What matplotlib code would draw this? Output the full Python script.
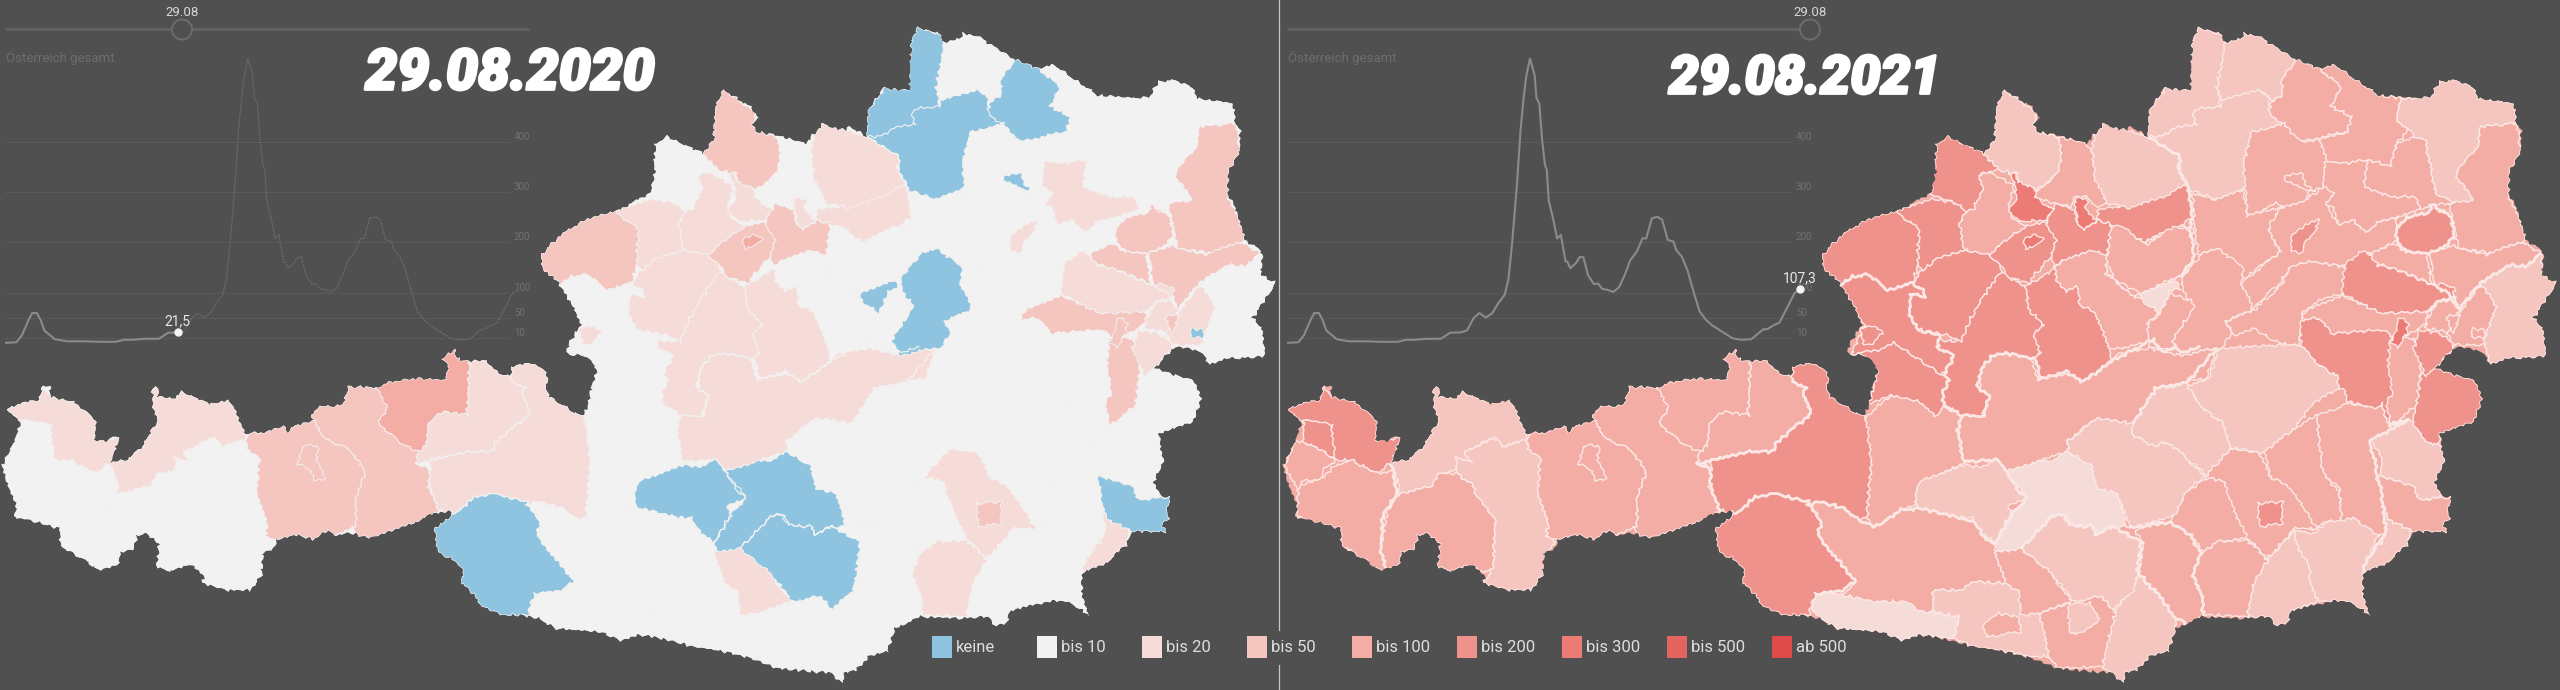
import matplotlib
matplotlib.use("Agg")
import matplotlib.pyplot as plt
import matplotlib.patheffects as pe
from matplotlib import font_manager
from matplotlib.collections import LineCollection, PolyCollection
from matplotlib.patches import Circle, Polygon, Rectangle
import numpy as np

W, H = 2560, 690
BG = "#505050"

def A(*p):
    return [(x / 2.45, 345 + y / 3) for x, y in p]
def B(*p):
    return [(640 + x / 2.45, y / 3) for x, y in p]
def C(*p):
    return [(640 + x / 2.45, 345 + y / 3) for x, y in p]
def E(*p):
    return [(520 + x / 3, 170 + y / 3) for x, y in p]

# 7 day incidence, Austria
days = [0, 11, 17, 24, 28, 33, 37, 41, 47, 52, 65, 83, 100, 117, 126, 135, 148, 163, 173, 183, 187, 191, 198, 204,
        211, 218, 224, 231, 235, 239, 244, 248, 251, 254, 258, 260, 263, 265, 268, 271, 274, 276, 278, 283, 287,
        291, 296, 298, 301, 307, 311, 315, 320, 326, 331, 335, 341, 347, 353, 359, 365, 372, 378, 382, 388, 394,
        399, 405, 411, 414, 420, 426, 433, 439, 446, 452, 463, 474, 483, 494, 507, 511, 518, 524, 533, 540, 546]
incidence = [1, 2, 16, 46, 60, 60, 46, 25, 16, 8, 4, 4, 3, 3, 7, 7, 9, 9, 21, 21.5, 23, 26, 50, 60,
             51, 60, 79, 96, 126, 198, 311, 423, 482, 529, 565, 552, 532, 486, 476, 403, 354, 344, 284, 245, 208,
             215, 162, 162, 149, 159, 171, 171, 135, 118, 118, 108, 106, 102, 111, 135, 165, 182, 208, 208, 248, 251,
             245, 205, 202, 185, 172, 145, 99, 63, 46, 36, 23, 10, 7, 8, 28, 28, 36, 41, 73, 99, 107.3]
y_ticks = [10, 50, 100, 200, 300, 400]

class_labels = ["keine", "bis 10", "bis 20", "bis 50", "bis 100", "bis 200", "bis 300", "bis 500", "ab 500"]
class_colors = ["#8fc4e0", "#f2f2f2", "#f6dcd9", "#f5c5c0", "#f3ada5", "#ef928b", "#ec7a75", "#e66460", "#de4a4a"]

austria = (
    A((15, 187), (95, 165), (105, 122), (122, 125), (125, 155), (180, 170), (215, 205), (235, 225), (232, 285),
      (265, 290), (275, 272), (292, 280), (280, 320), (270, 355), (310, 345), (345, 310), (385, 230), (375, 175),
      (372, 130), (390, 128), (385, 155), (430, 160), (445, 140), (500, 170), (520, 178), (560, 165), (570, 185),
      (580, 205), (600, 265), (655, 262), (700, 242), (705, 262), (725, 240), (770, 228), (762, 210), (785, 185),
      (840, 180), (855, 125), (920, 128), (950, 112), (1020, 100), (1090, 105), (1100, 60), (1080, 42), (1115, 12),
      (1118, 40), (1150, 50), (1190, 45), (1225, 90), (1250, 90), (1255, 65), (1300, 55), (1330, 70), (1345, 105),
      (1335, 125), (1345, 155), (1410, 205), (1430, 210))
    + E((205, 700), (215, 650), (230, 610), (215, 575), (190, 555), (150, 555), (140, 545), (150, 515), (185, 460),
        (150, 390), (120, 345), (70, 295), (62, 255), (120, 195), (200, 150), (285, 125), (390, 70), (405, 10))
    + B((35, 490), (38, 435), (65, 408), (100, 430), (155, 460), (180, 420), (185, 320), (205, 270), (230, 290),
        (270, 320), (290, 350), (275, 375), (285, 395), (330, 405), (405, 430), (425, 405), (450, 368), (470, 385),
        (505, 390), (515, 380), (555, 410), (560, 330), (595, 265), (640, 270), (660, 270), (665, 125), (680, 83),
        (735, 100), (745, 130), (785, 115), (790, 100), (830, 110), (880, 150), (920, 180), (975, 205), (1015, 195),
        (1060, 235), (1120, 285), (1225, 295), (1250, 290), (1270, 245), (1305, 240), (1355, 262), (1365, 295),
        (1450, 310), (1460, 370), (1470, 390), (1470, 450), (1440, 520), (1440, 590), (1455, 610), (1475, 680),
        (1480, 720), (1515, 745), (1525, 775), (1520, 825), (1558, 850), (1530, 900), (1500, 955), (1520, 980),
        (1530, 1035))
    + C((1530, 35), (1440, 40), (1395, 58), (1380, 25), (1345, 10), (1310, 5), (1260, 70), (1320, 95), (1355, 105),
        (1375, 160), (1355, 230), (1270, 265), (1282, 350), (1258, 410), (1275, 455), (1300, 455), (1290, 495),
        (1297, 520), (1280, 540), (1290, 560), (1205, 560), (1190, 600), (1145, 650), (1082, 685), (1082, 750),
        (1100, 810), (1050, 770), (1015, 767), (960, 780), (905, 800), (900, 830), (870, 840), (855, 815), (780, 820),
        (690, 815), (625, 850), (605, 920), (560, 935), (530, 975), (500, 985), (497, 1015), (470, 985), (335, 970),
        (270, 940), (190, 915), (130, 905), (70, 885), (0, 870))
    + A((1520, 885), (1470, 860), (1360, 850), (1320, 820), (1270, 810), (1230, 810), (1180, 785), (1165, 750),
        (1130, 715), (1135, 680), (1120, 650), (1075, 625), (1063, 550), (1105, 515), (1105, 495), (1050, 510),
        (1000, 540), (920, 575), (905, 580), (870, 565), (820, 570), (800, 555), (770, 585), (730, 570), (680, 585),
        (670, 610), (645, 620), (640, 690), (615, 735), (555, 735), (495, 715), (500, 690), (465, 658), (420, 680),
        (385, 665), (390, 600), (360, 565), (335, 575), (325, 615), (295, 620), (290, 655), (240, 675), (215, 650),
        (150, 605), (145, 550), (60, 520), (35, 520), (40, 480), (15, 400), (5, 360), (35, 290), (50, 235))
)

districts = [
    A((15, 187), (95, 165), (105, 122), (125, 155), (180, 170), (235, 225), (232, 285), (292, 280), (270, 355),
      (235, 385), (170, 345), (135, 345), (120, 300), (125, 240), (60, 225), (50, 235)),
    A((55, 225), (120, 235), (130, 300), (130, 340), (90, 310), (55, 290)),
    A((50, 290), (90, 310), (135, 345), (105, 370), (100, 400), (50, 410), (45, 445), (10, 360), (35, 290)),
    A((45, 420), (95, 405), (130, 365), (170, 345), (235, 385), (280, 375), (285, 445), (250, 510), (245, 610),
      (255, 670), (240, 675), (150, 600), (145, 550), (40, 515), (40, 480)),
    A((270, 355), (310, 345), (345, 310), (385, 230), (375, 175), (372, 130), (390, 128), (385, 155), (430, 160),
      (445, 140), (500, 170), (560, 165), (580, 205), (600, 265), (605, 290), (575, 290), (545, 305), (520, 275),
      (490, 295), (450, 320), (465, 350), (430, 340), (430, 375), (385, 385), (370, 425), (290, 445), (280, 375)),
    A((290, 445), (370, 425), (385, 385), (430, 385), (470, 420), (480, 455), (525, 520), (520, 670), (495, 680),
      (465, 660), (420, 680), (385, 665), (390, 600), (360, 565), (335, 575), (325, 615), (295, 620), (290, 655),
      (255, 670), (245, 610), (260, 500)),
    A((450, 320), (520, 280), (550, 305), (600, 285), (605, 310), (635, 340), (635, 400), (630, 440), (655, 530),
      (650, 575), (675, 590), (650, 620), (640, 690), (615, 735), (555, 735), (495, 715), (520, 670), (525, 520),
      (480, 455), (470, 420), (430, 385), (430, 340), (465, 350)),
    A((605, 265), (655, 262), (700, 242), (705, 262), (725, 240), (770, 228), (785, 265), (815, 295), (850, 305),
      (895, 380), (880, 430), (870, 470), (875, 525), (865, 550), (820, 570), (800, 555), (770, 585), (730, 570),
      (680, 585), (650, 575), (655, 530), (630, 440), (635, 340), (605, 310)),
    A((750, 300), (780, 305), (775, 345), (795, 400), (770, 405), (760, 375), (730, 355), (740, 310)),
    A((770, 228), (762, 210), (785, 185), (840, 180), (855, 125), (920, 128), (950, 170), (950, 190), (925, 235),
      (990, 300), (1025, 320), (1020, 360), (1050, 365), (1055, 440), (1075, 500), (1000, 540), (920, 575), (905, 580),
      (870, 565), (865, 550), (875, 525), (870, 470), (880, 430), (895, 380), (850, 305), (815, 295), (785, 265)),
    A((920, 128), (950, 112), (1020, 100), (1090, 105), (1100, 60), (1080, 42), (1115, 12), (1118, 40), (1150, 50),
      (1145, 210), (1085, 200), (1050, 235), (1045, 300), (1025, 320), (990, 300), (925, 235), (950, 190)),
    A((1150, 50), (1190, 45), (1225, 90), (1250, 90), (1285, 130), (1280, 150), (1300, 205), (1275, 230), (1215, 290),
      (1205, 320), (1140, 320), (1060, 345), (1020, 360), (1025, 320), (1045, 300), (1050, 235), (1085, 200), (1145, 210)),
    A((1055, 345), (1140, 320), (1205, 320), (1215, 290), (1275, 230), (1300, 205), (1280, 150), (1285, 130), (1250, 105),
      (1255, 65), (1300, 55), (1330, 70), (1345, 105), (1335, 125), (1345, 155), (1410, 205), (1430, 210), (1445, 260),
      (1447, 350), (1435, 520), (1415, 525), (1380, 490), (1320, 470), (1290, 480), (1210, 445), (1165, 455), (1115, 505),
      (1075, 495), (1050, 430), (1055, 365)),
    A((1115, 505), (1165, 455), (1210, 445), (1290, 470), (1325, 530), (1315, 570), (1360, 640), (1410, 710), (1375, 735),
      (1310, 750), (1295, 790), (1295, 810), (1230, 810), (1180, 785), (1165, 750), (1130, 715), (1135, 680), (1120, 650),
      (1075, 625), (1063, 550), (1105, 515)),
    A((1325, 530), (1290, 480), (1320, 470), (1380, 490), (1415, 525), (1455, 545), (1520, 495), (1568, 490))
    + C((80, 515), (130, 530), (150, 570), (180, 600), (190, 650), (205, 715), (130, 710), (100, 735), (30, 735), (30, 800), (0, 800))
    + A((1530, 770), (1450, 770), (1375, 750), (1410, 710), (1360, 640), (1315, 570)),
    A((1300, 790), (1310, 745), (1340, 740), (1375, 750), (1450, 770), (1530, 770))
    + C((0, 800), (60, 810), (95, 815), (80, 880), (0, 870))
    + A((1520, 885), (1470, 860), (1360, 850), (1320, 820)),
    C((30, 735), (100, 735), (130, 710), (205, 715), (245, 740), (245, 800), (290, 805), (315, 935), (270, 935),
      (190, 915), (130, 905), (80, 880), (95, 815), (30, 800)),
    C((150, 845), (185, 805), (235, 815), (245, 860), (165, 875)),
    C((180, 620), (245, 610), (315, 680), (370, 770), (290, 805), (245, 810), (240, 740), (205, 715), (190, 650)),
    C((290, 805), (350, 780), (370, 770), (440, 755), (480, 805), (445, 965), (335, 970), (315, 935)),
    C((360, 775), (415, 775), (435, 825), (395, 865), (365, 865)),
    C((480, 790), (535, 690), (575, 740), (625, 820), (625, 850), (605, 920), (560, 935), (530, 975), (500, 985),
      (497, 1015), (445, 965), (460, 880)),
    C((245, 610), (320, 515), (350, 505), (365, 540), (420, 545), (425, 570), (470, 545), (540, 590), (530, 690),
      (520, 740), (470, 790), (440, 755), (370, 770), (345, 720), (315, 680)),
    C((525, 555), (610, 530), (660, 570), (685, 625), (665, 690), (690, 750), (690, 810), (665, 845), (625, 820),
      (575, 740), (535, 690), (545, 590)),
    C((210, 375), (285, 350), (320, 345), (360, 320), (420, 365), (430, 430), (480, 445), (505, 545), (465, 545),
      (425, 570), (420, 545), (365, 540), (345, 505), (320, 515), (245, 610), (195, 620), (180, 600), (220, 510),
      (260, 460), (240, 440)),
    C((0, 405), (100, 360), (150, 365), (185, 345), (210, 380), (260, 460), (215, 480), (225, 510), (180, 595), (140, 550),
      (125, 520), (80, 515), (0, 490)) + A((1555, 480), (1555, 440)),
    C((100, 210), (155, 215), (165, 165), (145, 130), (145, 80), (170, 30), (210, 25), (270, 40), (290, 105), (360, 85),
      (395, 110), (470, 50), (480, 25), (560, 10), (630, 30), (725, 10), (700, 100), (650, 110), (575, 130), (520, 235),
      (430, 220), (360, 285), (360, 320), (285, 350), (210, 375), (185, 345), (105, 350), (90, 260)),
    E((195, 740), (270, 675), (360, 695), (400, 740), (430, 710), (480, 735), (470, 780), (490, 880))
    + C((0, 405)) + A((1555, 440), (1555, 480), (1520, 495), (1455, 545), (1435, 520), (1447, 350)),
    E((62, 255), (120, 195), (200, 150), (285, 125), (310, 145), (355, 175), (350, 290), (335, 340), (260, 360),
      (205, 315), (150, 320), (120, 345), (70, 295)),
    E((285, 125), (390, 85), (465, 100), (497, 125), (475, 160), (490, 240), (410, 265), (365, 300), (350, 290),
      (355, 175), (310, 145)),
    B((25, 580), (35, 490), (38, 435), (65, 408), (155, 460), (190, 510), (145, 520))
    + E((545, 60), (515, 120), (497, 125), (465, 100), (395, 75)),
    E((475, 160), (497, 125), (515, 120), (545, 60), (530, 15), (560, 5), (610, 30), (640, 45), (625, 100), (620, 115),
      (640, 150), (680, 170), (640, 190), (610, 215), (565, 255), (490, 240)),
    E((640, 45), (625, 10), (640, 10), (655, 40), (680, 30), (720, 95), (755, 120), (735, 150), (670, 155), (640, 145),
      (620, 115), (650, 90)),
    E((565, 255), (610, 215), (640, 190), (680, 170), (735, 155), (755, 190), (765, 210), (750, 260), (680, 340),
      (620, 320), (600, 290)),
    E((670, 205), (700, 190), (730, 210), (705, 225), (675, 238)),
    E((735, 155), (755, 120), (770, 100), (820, 120), (830, 160), (850, 178), (890, 150), (935, 165), (920, 255),
      (870, 240), (790, 270), (760, 290), (750, 260), (765, 210)),
    E((820, 85), (855, 85), (860, 100), (850, 110), (885, 150), (850, 178), (830, 160)),
    E((890, 120), (950, 110), (1030, 90), (1150, 45), (1165, 60), (1175, 140), (1140, 170), (1060, 200), (1030, 220),
      (990, 190), (935, 165), (890, 150)),
    B((420, 450), (425, 405), (450, 368), (505, 390), (555, 410), (635, 470), (630, 510), (650, 550), (600, 590),
      (540, 610), (510, 625), (480, 615), (450, 610), (420, 540)),
    B((155, 460), (180, 420), (185, 320), (205, 270), (285, 340), (275, 375), (285, 395), (335, 410), (345, 470),
      (335, 520), (285, 570), (240, 545), (235, 520), (210, 515), (190, 510)),
    B((335, 410), (405, 430), (420, 460), (425, 530), (455, 610), (435, 625), (405, 590), (375, 590), (370, 620),
      (330, 610), (275, 590), (290, 570), (335, 520), (345, 470)),
    E((935, 165), (990, 190), (1030, 220), (1140, 170), (1175, 175), (1170, 270), (1140, 320), (1060, 355), (1020, 375),
      (990, 375), (920, 310), (915, 270), (925, 210)),
    E((875, 300), (905, 285), (915, 310), (885, 320)),
    E((760, 295), (790, 270), (870, 240), (920, 255), (915, 310), (990, 375), (1060, 405), (1070, 430), (1040, 460),
      (1055, 510), (1030, 520), (925, 540), (890, 450), (880, 425), (835, 405), (830, 350), (800, 365), (770, 340)),
    E((675, 350), (760, 295), (770, 340), (800, 365), (830, 350), (835, 405), (880, 425), (890, 450), (925, 540),
      (930, 575), (880, 610), (840, 635), (800, 605), (715, 625), (705, 565), (720, 550), (695, 490), (730, 465),
      (690, 430), (680, 400)),
    E((600, 305), (620, 320), (675, 350), (680, 400), (690, 430), (730, 465), (695, 490), (720, 550), (690, 565),
      (620, 550), (575, 555), (540, 600), (530, 650), (565, 680), (545, 740), (480, 735), (430, 700), (425, 670),
      (445, 630), (430, 610), (460, 555), (410, 535), (415, 510), (480, 515), (510, 445), (545, 380)),
    E((335, 340), (365, 300), (410, 265), (490, 240), (565, 255), (600, 290), (600, 305), (545, 380), (510, 445),
      (480, 515), (440, 495), (350, 480), (325, 430), (330, 370), (370, 380), (365, 360)),
    E((120, 345), (150, 320), (205, 315), (260, 360), (335, 340), (365, 360), (370, 380), (330, 370), (325, 430),
      (350, 480), (415, 495), (410, 535), (460, 555), (430, 610), (415, 610), (280, 520), (230, 540), (150, 555),
      (190, 465), (150, 390)),
    E((180, 475), (215, 465), (245, 490), (210, 525), (185, 520)),
    E((150, 555), (230, 540), (280, 520), (415, 610), (445, 630), (425, 670), (430, 710), (400, 740), (360, 695),
      (270, 675), (205, 700), (230, 610), (190, 555)),
    B((590, 410), (625, 385), (675, 370), (665, 345), (680, 325), (735, 320), (725, 270), (745, 160), (740, 105),
      (680, 83), (665, 125), (655, 270), (600, 265), (560, 330), (555, 410)),
    B((745, 130), (785, 115), (790, 100), (830, 110), (880, 150), (920, 180), (885, 235), (885, 290), (860, 305),
      (835, 270), (800, 285), (770, 290), (735, 300), (725, 270)),
    B((590, 410), (625, 385), (675, 370), (665, 345), (680, 325), (735, 320), (735, 300), (770, 290), (830, 270),
      (850, 290), (855, 345), (890, 370), (855, 385), (810, 395), (790, 490), (825, 545), (730, 600), (660, 570),
      (635, 510), (635, 470), (555, 410)),
    B((885, 235), (920, 180), (975, 205), (1030, 260), (1005, 320), (1055, 350), (1045, 395), (930, 425), (890, 375),
      (855, 345), (855, 310), (885, 290)),
    B((975, 205), (1015, 195), (1060, 235), (1120, 285), (1175, 295), (1165, 360), (1195, 390), (1165, 430), (1150, 500),
      (1095, 480), (1045, 490), (990, 485), (975, 420), (1045, 395), (1055, 350), (1005, 320), (1030, 260)),
    B((1175, 295), (1225, 295), (1250, 290), (1270, 245), (1305, 240), (1355, 262), (1365, 295), (1450, 310), (1460, 370),
      (1370, 380), (1365, 440), (1320, 500), (1310, 530), (1355, 600), (1310, 610), (1260, 580), (1250, 510), (1235, 420),
      (1210, 410), (1190, 385), (1165, 360)),
    B((1370, 380), (1460, 370), (1470, 450), (1440, 520), (1440, 590), (1475, 680), (1480, 720), (1400, 760), (1320, 745),
      (1300, 650), (1295, 610), (1355, 600), (1310, 530), (1320, 500), (1365, 440)),
    B((810, 395), (855, 385), (890, 370), (930, 425), (975, 420), (995, 485), (985, 560), (950, 575), (945, 600),
      (890, 620), (870, 610), (800, 650), (790, 490)),
    B((893, 530), (930, 520), (945, 560), (965, 572), (935, 570), (915, 550), (895, 545)),
    B((990, 485), (1045, 490), (1095, 480), (1085, 560), (1150, 590), (1210, 590), (1225, 630), (1175, 650), (1160, 650),
      (1120, 665), (1090, 700), (1060, 660), (1025, 675), (1010, 620), (990, 610), (1010, 580), (985, 560)),
    B((1095, 480), (1150, 500), (1165, 430), (1210, 410), (1235, 420), (1250, 510), (1260, 580), (1310, 610), (1295, 610),
      (1250, 615), (1225, 630), (1210, 590), (1150, 590), (1085, 560)),
    B((1165, 690), (1190, 650), (1245, 640), (1250, 615), (1270, 625), (1300, 650), (1305, 710), (1290, 735), (1240, 760),
      (1190, 755), (1165, 720)),
    B((1240, 760), (1300, 735), (1320, 745), (1390, 765), (1470, 725), (1520, 760), (1480, 800), (1445, 795), (1370, 850),
      (1320, 925), (1305, 890), (1255, 850), (1250, 770)),
    B((1100, 765), (1155, 730), (1190, 755), (1240, 760), (1250, 850), (1180, 815), (1115, 790)),
    B((665, 580), (725, 600), (790, 570), (800, 650), (885, 620), (850, 690), (880, 755), (790, 835), (780, 800),
      (725, 745), (680, 765), (670, 680)),
    B((855, 670), (885, 620), (945, 600), (985, 560), (1015, 580), (990, 610), (1020, 675), (1060, 660), (1090, 700),
      (1120, 665), (1165, 650), (1165, 725), (1100, 760), (1050, 790), (1030, 800), (960, 785), (905, 800), (880, 850),
      (850, 880), (815, 925), (785, 850), (880, 755), (855, 690)),
    B((905, 720), (920, 690), (975, 655), (965, 700), (940, 725), (935, 760), (910, 755)),
    B((455, 790), (465, 680), (490, 675), (550, 735), (620, 680), (660, 690), (670, 770), (640, 820), (540, 880), (475, 840)),
    B((540, 880), (575, 860), (625, 840), (635, 868), (610, 870), (600, 900), (585, 940), (545, 905)),
    B((640, 830), (690, 760), (725, 745), (790, 800), (785, 850), (815, 925), (745, 965), (760, 1000), (740, 1040),
      (640, 1065), (615, 1020), (650, 960), (660, 910), (640, 870)),
    B((555, 975), (585, 940), (610, 880), (665, 905), (670, 920), (650, 960), (615, 1020), (620, 1050), (560, 1040)),
    B((745, 965), (815, 930), (880, 860), (905, 800), (960, 785), (1030, 800), (1055, 820), (1030, 885), (985, 895),
      (935, 935), (925, 1035), (905, 1035), (860, 1020), (815, 985), (765, 1005)),
    B((1040, 790), (1085, 750), (1120, 795), (1165, 810), (1255, 855), (1280, 850), (1310, 870), (1300, 895), (1255, 920),
      (1240, 935), (1130, 940), (1100, 925), (1040, 885), (1030, 880)),
    B((930, 960), (945, 930), (1030, 885), (1100, 925), (1130, 940), (1240, 935), (1240, 965), (1200, 1000), (1170, 1020),
      (1130, 990), (1005, 1000), (975, 955)),
    B((930, 960), (975, 955), (1005, 1000), (1130, 990), (1170, 1020), (1150, 1040))
    + C((1145, 60), (1165, 130), (1145, 240), (1130, 175), (1115, 190), (1045, 170), (1040, 140), (1025, 130), (1020, 95),
        (975, 60), (930, 0)),
    C((1150, -20), (1205, -20), (1225, 60), (1215, 180), (1150, 245), (1140, 170), (1155, 150), (1145, 60)),
    B((1170, 950), (1195, 970), (1190, 1000), (1170, 1040), (1150, 1030), (1165, 990)),
    C((1225, 90), (1260, 70), (1320, 95), (1355, 105), (1375, 160), (1355, 230), (1270, 265), (1270, 300), (1240, 295),
      (1205, 230), (1215, 170)),
    B((1210, 1035), (1220, 990), (1270, 1000), (1310, 1035)) + C((1310, 0), (1260, 70), (1235, 95), (1225, 60), (1205, 0)),
    B((1240, 960), (1265, 905), (1300, 900), (1320, 935), (1290, 1000), (1270, 990), (1235, 985)),
    B((1320, 935), (1375, 850), (1410, 920), (1385, 1000), (1380, 1035), (1305, 1035), (1290, 1000)),
    B((1285, 950), (1320, 945), (1305, 1000)),
    B((1350, 985), (1380, 990), (1380, 1015), (1350, 1010)),
    B((1370, 850), (1440, 795), (1480, 800), (1520, 760), (1525, 825), (1558, 850), (1530, 900), (1500, 955), (1520, 980),
      (1530, 1035))
    + C((1530, 35), (1440, 40), (1395, 58), (1380, 0)) + B((1385, 1000), (1410, 920)),
    C((1100, 285), (1195, 225), (1205, 230), (1240, 295), (1270, 300), (1282, 350), (1258, 410), (1275, 455), (1220, 465),
      (1210, 425), (1160, 405), (1125, 395), (1130, 340)),
    C((1122, 395), (1160, 405), (1210, 425), (1220, 465), (1300, 455), (1290, 495), (1297, 520), (1280, 540), (1290, 560),
      (1205, 560), (1180, 545), (1145, 525), (1130, 480)),
    C((1130, 470), (1145, 525), (1200, 555), (1190, 600), (1145, 650), (1082, 685), (1090, 650), (1120, 590), (1140, 565)),
    C((970, 210), (1020, 190), (1045, 175), (1115, 190), (1130, 175), (1145, 245), (1195, 225), (1100, 285), (1130, 460),
      (1140, 565), (1120, 575), (1060, 520), (1030, 530), (1025, 430), (985, 385), (975, 290)),
    C((840, 320), (915, 250), (970, 210), (975, 290), (985, 385), (1025, 440), (1030, 530), (990, 530), (960, 560),
      (930, 520), (890, 415), (860, 400)),
    C((660, 120), (705, 100), (730, 10), (885, 0), (930, 0), (975, 60), (1020, 95), (1025, 130), (960, 175), (915, 250),
      (840, 320), (830, 325), (780, 310), (760, 310), (735, 230), (690, 190), (650, 120)),
    C((520, 235), (575, 130), (650, 115), (690, 190), (735, 230), (760, 310), (700, 390), (650, 340), (625, 310),
      (590, 290), (570, 305), (515, 265)),
    C((360, 290), (430, 220), (520, 235), (515, 265), (570, 305), (590, 290), (625, 310), (650, 340), (695, 395),
      (650, 440), (625, 510), (515, 550), (490, 480), (480, 445), (430, 430), (420, 365), (360, 320)),
    C((695, 395), (760, 310), (830, 325), (860, 400), (890, 415), (930, 470), (970, 550), (930, 550), (915, 550),
      (880, 600), (850, 640), (800, 580), (745, 450), (745, 410), (700, 400)),
    C((825, 475), (885, 470), (885, 535), (830, 545)),
    C((620, 515), (650, 440), (700, 400), (745, 410), (750, 450), (800, 580), (730, 590), (690, 620), (660, 570), (610, 530)),
    C((685, 625), (730, 590), (800, 585), (850, 645), (815, 715), (800, 815), (690, 810), (690, 750), (665, 690)),
    C((850, 645), (915, 555), (925, 620), (950, 650), (955, 720), (975, 770), (905, 800), (900, 830), (870, 840), (855, 815),
      (800, 815), (815, 715)),
    C((915, 555), (960, 565), (1000, 530), (1060, 520), (1120, 570), (1090, 650), (1082, 685), (1082, 750), (1100, 810),
      (1050, 770), (1015, 767), (975, 770), (955, 720), (950, 650), (925, 620)),
]

# incidence class per district, same order as the outlines
class_2020 = [2, 1, 1, 1, 2, 1, 1, 3, 3, 3, 4, 2, 2, 0, 1, 1, 1, 1, 2, 1, 1, 1, 0, 1, 0, 0, 2, 1,
              3, 2, 1, 2, 2, 3, 4, 3, 2, 2, 2, 3, 1, 1, 2, 1, 2, 2, 2, 1, 2, 1,
              0, 1, 0, 0, 1, 1, 3, 1, 0, 2, 1, 3, 3, 3, 1, 1, 2, 1, 0, 0, 1, 1, 2, 3, 1, 3, 3, 1,
              2, 2, 2, 3, 0, 1, 1, 0, 2, 1, 1, 1, 1, 1, 2, 3, 1, 2, 1, 1]
class_2021 = [5, 5, 4, 4, 3, 4, 3, 4, 4, 4, 4, 4, 5, 5, 4, 2, 3, 4, 4, 4, 3, 3, 3, 4, 2, 3, 4, 4,
              5, 5, 5, 4, 6, 5, 6, 5, 6, 5, 3, 3, 4, 4, 5, 4, 5, 5, 5, 5, 5, 5,
              3, 3, 3, 4, 4, 3, 4, 4, 4, 4, 4, 5, 4, 4, 4, 4, 5, 4, 2, 4, 4, 4, 5, 4, 5, 4, 6, 5,
              5, 4, 4, 4, 4, 3, 3, 4, 3, 4, 4, 3, 3, 3, 4, 5, 4, 4, 3, 3]

# thicker lines between the federal states
state_borders = [
    A((270, 355), (285, 445), (250, 510), (245, 610), (255, 670)),
    A((1250, 105), (1285, 130), (1280, 150), (1300, 205), (1275, 230), (1215, 290), (1205, 320), (1140, 320), (1060, 345),
      (1020, 360), (1050, 365), (1055, 440), (1075, 500)),
    A((1115, 505), (1165, 455), (1210, 445), (1290, 470), (1325, 530), (1315, 570), (1360, 640), (1410, 710), (1375, 735), (1310, 750)),
    A((1290, 480), (1320, 470), (1380, 490), (1415, 525), (1455, 545), (1520, 495), (1568, 490)) + C((80, 515), (130, 530), (150, 570), (180, 600)),
    C((180, 600), (220, 510), (260, 460), (240, 440), (210, 375), (185, 345), (105, 350), (90, 260), (100, 210)),
    E((120, 345), (150, 320), (205, 315), (260, 360), (335, 340), (365, 360), (370, 380), (330, 370), (325, 430), (350, 480),
      (415, 495), (410, 535), (460, 555), (430, 610), (445, 630), (425, 670), (430, 710), (480, 735), (545, 740), (565, 680),
      (530, 650), (540, 600), (575, 555), (620, 550), (690, 565), (705, 565), (715, 625), (800, 605), (840, 635), (880, 610),
      (930, 575), (1030, 520), (1055, 510), (1080, 545), (1120, 530), (1150, 550), (1200, 530)),
    B((640, 830), (670, 770), (660, 690), (665, 620), (650, 550), (630, 510), (635, 470), (555, 410)),
    C((520, 235), (575, 130), (650, 115), (725, 10)),
    C((245, 610), (320, 515), (350, 505), (365, 540), (420, 545), (425, 570), (470, 545), (540, 590), (530, 690), (535, 690),
      (575, 740), (625, 820), (665, 845)),
    C((510, 550), (610, 530), (660, 570), (685, 625), (665, 690), (690, 750), (690, 810)),
    C((1100, 285), (1130, 460), (1140, 565), (1090, 650), (1082, 685)),
    B((1250, 850), (1305, 890), (1320, 925), (1370, 850), (1445, 795), (1480, 800), (1520, 760)),
    B((1165, 690), (1190, 650), (1245, 640), (1250, 615), (1300, 650), (1305, 710), (1290, 735), (1240, 760), (1190, 755), (1165, 720), (1165, 690)),
    B((1240, 935), (1265, 905), (1300, 895), (1320, 925)),
    C((1145, 240), (1195, 225), (1100, 285)),
]

panels = [
    {"dx": 0, "classes": class_2020, "title": "29.08.2020", "title_xy": (510, 74), "title_size": 41, "base": 1,
     "edge": "#f2f1f0", "edge_w": 0.7, "border_w": 0.9, "chart_x": 6, "slider": (6, 528), "knob": 182, "now": 183, "label": "21,5"},
    {"dx": 1281, "classes": class_2021, "title": "29.08.2021", "title_xy": (1805, 79), "title_size": 38.5, "base": 4,
     "edge": "#fbe8e5", "edge_w": 1.0, "border_w": 2.0, "chart_x": 1288, "slider": (1288, 1810), "knob": 1810, "now": 546, "label": "107,3"},
]

def rough(pts, closed=True):
    # outlines were traced coarsely: resample them and bend them with one shared
    # field, so neighbouring districts stay together and edges look less like straight cuts
    pts = np.array(pts, dtype=float)
    if closed:
        pts = np.vstack([pts, pts[:1]])
    out = []
    for a, b in zip(pts[:-1], pts[1:]):
        n = max(1, int(np.hypot(*(b - a)) / 2.5))
        out.append(a + (b - a) * np.arange(n)[:, None] / n)
    out.append(pts[-1:])
    q = np.vstack(out)
    x, y = q[:, 0], q[:, 1]
    wx = 1.1 * np.sin(0.83 * y + 0.37 * x) + 0.7 * np.sin(1.71 * x - 0.59 * y)
    wy = 1.1 * np.sin(0.77 * x - 0.41 * y) + 0.7 * np.sin(1.63 * y + 0.53 * x)
    return np.column_stack([x + wx, y + wy])

names = {f.name for f in font_manager.fontManager.ttflist}
narrow = "Liberation Sans Narrow" if "Liberation Sans Narrow" in names else "Roboto"

fig = plt.figure(figsize=(W / 100, H / 100), dpi=100, facecolor=BG)
ax = fig.add_axes([0, 0, 1, 1], zorder=3)
ax.set_xlim(0, W)
ax.set_ylim(H, 0)
ax.axis("off")

# divider between both screenshots, broken behind the legend
ax.plot([1278.5, 1278.5], [0, 630], color="#c8c8c8", lw=0.9)
ax.plot([1278.5, 1278.5], [665, H], color="#c8c8c8", lw=0.9)

PX_PER_DAY = 512 / 546
PX_PER_UNIT = 0.504
CHART_BOTTOM = 343.3
CHART_TOP_VALUE = 600
CHART_RIGHT_DAY = 537

rough_austria = rough(austria)
rough_districts = [rough(o) for o in districts]
rough_borders = [rough(o, closed=False) for o in state_borders]

for p in panels:
    # small national curve behind the map
    cw = CHART_RIGHT_DAY * PX_PER_DAY
    ch = CHART_TOP_VALUE * PX_PER_UNIT
    lc = fig.add_axes([p["chart_x"] / W, 1 - CHART_BOTTOM / H, cw / W, ch / H], zorder=1)
    lc.patch.set_alpha(0)
    lc.set_xlim(0, CHART_RIGHT_DAY)
    lc.set_ylim(0, CHART_TOP_VALUE)
    for s in lc.spines.values():
        s.set_visible(False)
    lc.set_xticks([])
    lc.yaxis.tick_right()
    lc.set_yticks(y_ticks)
    lc.tick_params(axis="y", length=0, pad=3, labelsize=7, labelcolor="#727272")
    for t in lc.get_yticklabels():
        t.set_va("bottom")
        t.set_family(narrow)
    lc.grid(axis="y", ls=(0, (1, 1.5)), lw=0.8, color="#696969")
    d = np.array(days, dtype=float)
    v = np.array(incidence, dtype=float)
    past = d <= p["now"]
    lc.plot(d[past], v[past], color="#8b8b8b", lw=1.5, clip_on=False, zorder=3)
    if (~past).any():
        i = past.sum() - 1
        lc.plot(d[i:], v[i:], color="#757575", lw=0.9, ls=(0, (1, 1)), clip_on=False, zorder=3)
    now_val = v[list(d).index(p["now"])]
    lc.plot([p["now"]], [now_val], "o", ms=5, color="#f4f4f4", clip_on=False, zorder=4)
    lc.annotate(p["label"], (p["now"], now_val), xytext=(0, 3), textcoords="offset points", ha="center", va="bottom",
                color="#e8e8e8", fontsize=10, family=narrow, annotation_clip=False)

    # date slider
    x0, x1 = p["slider"]
    ax.plot([x0, x1], [29.3, 29.3], color="#626262", lw=2, solid_capstyle="round", zorder=1)
    ax.add_patch(Circle((p["knob"], 29.5), 10, facecolor=BG, edgecolor="#6b6b6b", lw=1.5, zorder=2))
    ax.text(p["knob"], 12.5, "29.08", color="#d8d8d8", fontsize=9.5, family=narrow, ha="center", va="center")
    ax.text(x0, 58, "Österreich gesamt", color="#6d6d6d", fontsize=9.5, family=narrow, ha="left", va="center")

    # map: silhouette first, districts clipped to it
    outline = rough_austria + [p["dx"], 0]
    ax.add_patch(Polygon(outline, closed=True, facecolor=class_colors[p["base"]], edgecolor="none", zorder=3))
    clip = Polygon(outline, closed=True, transform=ax.transData)
    polys = [o + [p["dx"], 0] for o in rough_districts]
    coll = PolyCollection(polys, facecolors=[class_colors[c] for c in p["classes"]], edgecolors=p["edge"],
                          linewidths=p["edge_w"], zorder=4)
    ax.add_collection(coll)
    coll.set_clip_path(clip)
    lines = LineCollection([o + [p["dx"], 0] for o in rough_borders], colors=p["edge"], linewidths=p["border_w"], zorder=5)
    ax.add_collection(lines)
    lines.set_clip_path(clip)

    ax.text(p["title_xy"][0], p["title_xy"][1], p["title"], color="white", fontsize=p["title_size"], family="Roboto",
            weight=900, style="italic", ha="center", va="center", zorder=6,
            path_effects=[pe.withStroke(linewidth=2, foreground="white")])

for i, (lab, col) in enumerate(zip(class_labels, class_colors)):
    sx = 932 + 105 * i
    ax.add_patch(Rectangle((sx, 636), 20, 22, facecolor=col, edgecolor="none", zorder=6))
    ax.text(sx + 24, 647, lab, color="#dedede", fontsize=12, family=narrow, ha="left", va="center", zorder=6)

fig.savefig("out.png", dpi=100, facecolor=BG)
